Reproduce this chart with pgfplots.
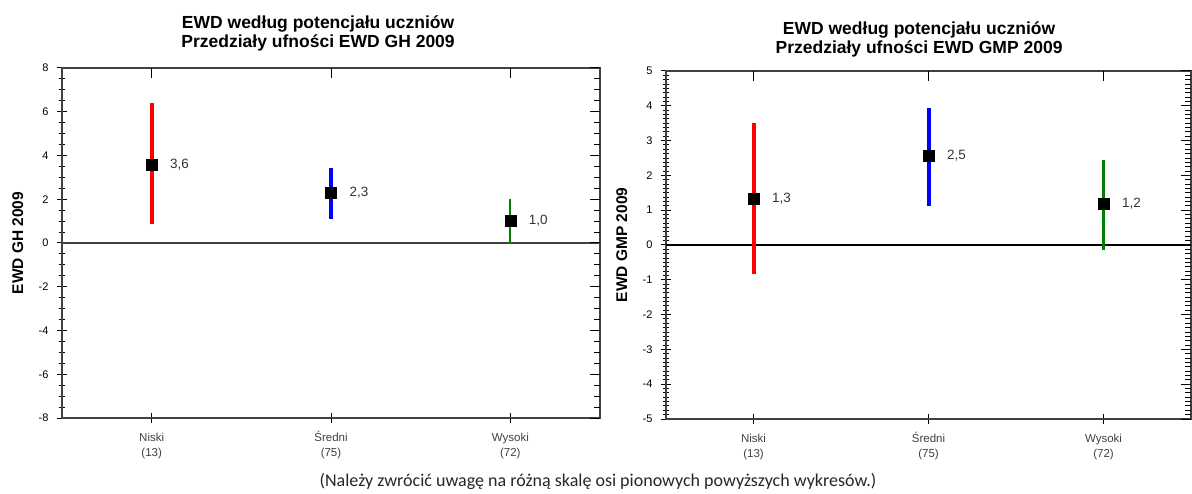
\documentclass[border=0pt]{standalone}
\usepackage{fontspec}
\setmainfont{Liberation Sans}
\newfontfamily\calib{Carlito}
\usepackage{pgfplots}
\pgfplotsset{compat=1.18}

\definecolor{axgray}{HTML}{404040}
\definecolor{cired}{HTML}{FF0000}
\definecolor{ciblue}{HTML}{0000FF}
\definecolor{cigreen}{HTML}{008000}

\pgfplotsset{
  ewdbase/.style={
    scale only axis,
    anchor=south west,
    xmin=-0.5, xmax=2.5,
    xtick={0,1,2},
    major tick length=10pt, minor tick length=6pt,
    every tick/.style={black, line width=1pt},
    every minor tick/.style={black, line width=0.9pt},
    axis line style={axgray, line width=1.4pt},
  },
  ewd/.style={
    ewdbase,
    xtick pos=bottom, ytick pos=left,
    xticklabels={{\vphantom{Ś}Niski\\(13)},{\vphantom{Ś}Średni\\(75)},{\vphantom{Ś}Wysoki\\(72)}},
    x tick label style={align=center, font=\fontsize{11.5}{14.5}\selectfont, text=axgray, yshift=-5pt},
    y tick label style={font=\fontsize{11}{13}\selectfont, xshift=-5pt},
    /pgf/number format/assume math mode=true,
    tick align=center,
    ylabel style={font=\fontsize{15.5}{17}\selectfont\bfseries, anchor=center, rotate=0},
    title style={font=\fontsize{17.5}{19.5}\selectfont\bfseries, align=center, anchor=south},
    nodes near coords style={font=\fontsize{13.5}{15}\selectfont, text=black!80, anchor=west, xshift=15pt},
  },
  % ticks on the top and right frame, pointing inward only
  ewdmirror/.style={
    ewdbase,
    xtick pos=top, ytick pos=right, tick align=inside,
    xticklabels={}, yticklabels={},
    axis line style={draw=none},
  },
  ci/.style={line width=#1},
}

\begin{document}
\begin{tikzpicture}
\path[use as bounding box] (0pt,0pt) rectangle (1192pt,493pt);

% GH 2009
\begin{axis}[ewd,
  at={(62pt,75pt)}, width=538pt, height=350pt,
  ymin=-8, ymax=8, ytick={-8,-6,...,8}, minor y tick num=3,
  ylabel={EWD GH 2009},
  ylabel style={at={(axis description cs:-0.082,0.5)}},
  title={EWD według potencjału uczniów\\Przedziały ufności EWD GH 2009},
  title style={at={(axis description cs:0.476,1)}, yshift=7pt},
]
\addplot[axgray, line width=1.2pt] coordinates {(-0.5,0) (2.5,0)};
\addplot[cired, ci=4pt] coordinates {(0,0.85) (0,6.4)};
\addplot[ciblue, ci=4pt] coordinates {(1,1.1) (1,3.45)};
\addplot[cigreen, ci=2.2pt] coordinates {(2,-0.05) (2,2.0)};
\addplot[only marks, mark=square*, mark size=5.5pt, black,
  nodes near coords, point meta=explicit symbolic] coordinates {
  (0,3.6) [3,6]
  (1,2.3) [2,3]
  (2,1.0) [1,0]
};
\end{axis}
\begin{axis}[ewdmirror,
  at={(62pt,75pt)}, width=538pt, height=350pt,
  ymin=-8, ymax=8, ytick={-8,-6,...,8}, minor y tick num=3,
]
\end{axis}

% GMP 2009
\begin{axis}[ewd,
  at={(666pt,74pt)}, width=525pt, height=348pt,
  ymin=-5, ymax=5, ytick={-5,-4,...,5}, minor y tick num=7,
  ylabel={EWD GMP 2009},
  ylabel style={at={(axis description cs:-0.084,0.5)}},
  title={EWD według potencjału uczniów\\Przedziały ufności EWD GMP 2009},
  title style={at={(axis description cs:0.482,1)}, yshift=4pt},
]
\addplot[black, line width=1.2pt] coordinates {(-0.5,0) (2.5,0)};
\addplot[cired, ci=4pt] coordinates {(0,-0.83) (0,3.5)};
\addplot[ciblue, ci=4pt] coordinates {(1,1.12) (1,3.94)};
\addplot[cigreen, ci=2.2pt] coordinates {(2,-0.14) (2,2.44)};
\addplot[only marks, mark=square*, mark size=5.5pt, black,
  nodes near coords, point meta=explicit symbolic] coordinates {
  (0,1.32) [1,3]
  (1,2.56) [2,5]
  (2,1.18) [1,2]
};
\end{axis}
\begin{axis}[ewdmirror,
  at={(666pt,74pt)}, width=525pt, height=348pt,
  ymin=-5, ymax=5, ytick={-5,-4,...,5}, minor y tick num=7,
]
\end{axis}

\node[font=\calib\fontsize{18}{20}\selectfont, text=black!85] at (598pt,12pt)
  {(Należy zwrócić uwagę na różną skalę osi pionowych powyższych wykresów.)};
\end{tikzpicture}
\end{document}
